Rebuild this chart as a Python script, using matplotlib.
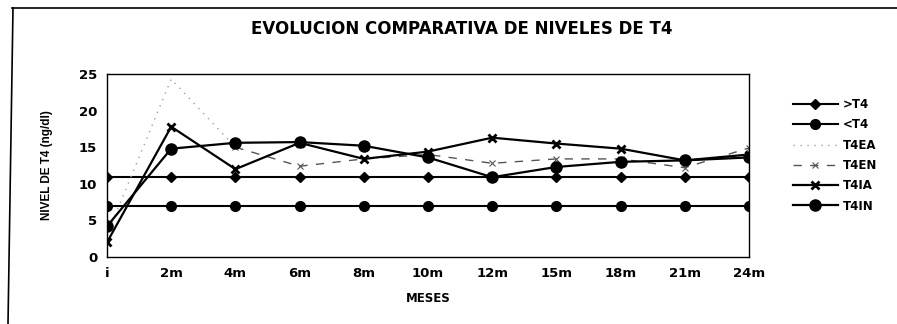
import numpy as np
import matplotlib
matplotlib.use("Agg")
import matplotlib.pyplot as plt
from matplotlib.lines import Line2D

plt.rcParams['font.family'] = ['DejaVu Sans']

# months on the x axis
meses = ['i', '2m', '4m', '6m', '8m', '10m', '12m', '15m', '18m', '21m', '24m']

# series values (ng/dl)
t4_alto = [10.9, 10.9, 10.9, 10.9, 10.9, 10.9, 10.9, 10.9, 10.9, 10.9, 10.9]
t4_bajo = [6.9, 6.9, 6.9, 6.9, 6.9, 6.9, 6.9, 6.9, 6.9, 6.9, 6.9]
t4ea = [3.0, 24.3, 15.0, np.nan, np.nan, np.nan, np.nan, np.nan, np.nan, np.nan, np.nan]
t4en = [np.nan, np.nan, 15.0, 12.4, 13.4, 14.0, 12.8, 13.4, 13.4, 12.2, 14.9]
t4ia = [2.0, 17.8, 12.0, 15.6, 13.4, 14.4, 16.3, 15.5, 14.8, 13.2, 14.0]
t4in = [4.2, 14.8, 15.6, 15.7, 15.2, 13.6, 10.9, 12.3, 13.0, 13.2, 13.6]

fig = plt.figure(figsize=(8.97, 3.24), dpi=100)
ax = fig.add_axes([107 / 897, 1 - 257 / 324, 642 / 897, 183 / 324])

x = np.arange(len(meses))
ax.plot(x, t4_alto, color='black', lw=1.5, marker='D', ms=5, label='>T4')
ax.plot(x, t4_bajo, color='black', lw=1.5, marker='o', ms=7, label='<T4')
ax.plot(x, t4ea, color='#a0a0a0', lw=1.0, linestyle=(0, (1, 4)), label='T4EA')
ax.plot(x, t4en, color='#555555', lw=1.0, linestyle=(0, (6, 6)), marker='x', ms=5,
        mew=0.8, label='T4EN')
ax.plot(x, t4ia, color='black', lw=1.6, marker='x', ms=6, mew=2, label='T4IA')
ax.plot(x, t4in, color='black', lw=1.6, marker='o', ms=8, label='T4IN')

ax.set_xlim(0, len(meses) - 1)
ax.set_ylim(0, 25)
ax.set_yticks([0, 5, 10, 15, 20, 25])
ax.set_xticks(x)
ax.set_xticklabels(meses)
ax.tick_params(length=0, labelsize=9.5, pad=7)
for lbl in ax.get_xticklabels() + ax.get_yticklabels():
    lbl.set_fontweight('bold')
for s in ax.spines.values():
    s.set_linewidth(1.0)

ax.set_ylabel('NIVEL DE T4 (ng/dl)', family='Liberation Sans', fontweight='bold',
              fontsize=8.5, labelpad=19)
ax.set_xlabel('MESES', fontweight='bold', fontsize=8.5, labelpad=9)

fig.text(462 / 897, 1 - 29 / 324, 'EVOLUCION COMPARATIVA DE NIVELES DE T4',
         ha='center', va='center', fontsize=12, fontweight='bold')

leg = ax.legend(loc='upper left', bbox_to_anchor=(793 / 897, 1 - 98 / 324),
                bbox_transform=fig.transFigure, frameon=False, borderpad=0,
                borderaxespad=0, handlelength=3.8, handletextpad=0.4,
                labelspacing=0.62, prop={'size': 8.5, 'weight': 'bold'})

# outer frame of the scanned page
fig.add_artist(Line2D([12 / 897, 1], [1 - 8 / 324, 1 - 8 / 324], color='black', lw=1.2,
                      transform=fig.transFigure))
fig.add_artist(Line2D([13 / 897, 8 / 897], [1 - 8 / 324, 0], color='black', lw=1.2,
                      transform=fig.transFigure))

fig.savefig('out.png', dpi=100)
